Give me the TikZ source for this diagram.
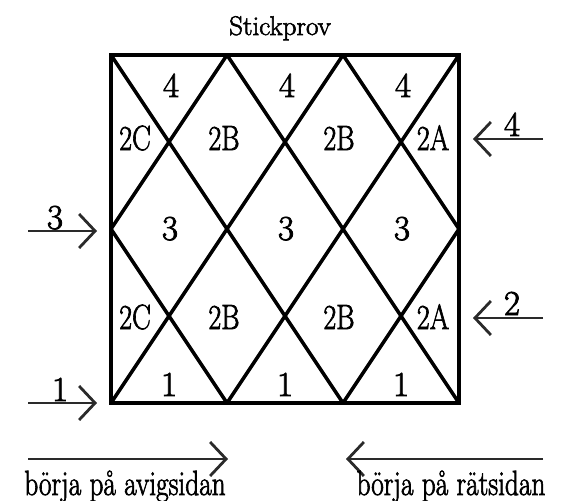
\documentclass[tikz,border=0pt]{standalone}
\usepackage{fontspec}
\setmainfont{Latin Modern Roman}
\newfontface\lmheavy{Latin Modern Roman}[FakeBold=2.2]
\usetikzlibrary{arrows.meta}
\definecolor{arrcol}{HTML}{2A2A2A}
\newcommand\narrowtxt[2]{\scalebox{#1}[1]{#2}}
\begin{document}
\begin{tikzpicture}[x=1pt,y=-1pt,
  frame/.style={line width=4.2pt,line join=miter},
  diag/.style={line width=3.5pt,line cap=round},
  arr/.style={arrcol,line width=2.8pt,-{Straight Barb[length=16pt,width=34pt]}},
  lbl/.style={font=\fontsize{35}{35}\lmheavy,inner sep=0pt,anchor=base},
  big/.style={font=\fontsize{35}{35}\lmheavy,inner sep=0pt,anchor=base},
  ttl/.style={font=\fontsize{27}{27}\lmheavy,inner sep=0pt,anchor=base}]
\useasboundingbox (0,0) rectangle (563,501);
% vertices
\coordinate (T0) at (111,55); \coordinate (T1) at (227,55);
\coordinate (T2) at (343,55); \coordinate (T3) at (459,55);
\coordinate (B0) at (111,403); \coordinate (B1) at (227,403);
\coordinate (B2) at (343,403); \coordinate (B3) at (459,403);
\coordinate (ML) at (111,229); \coordinate (MR) at (459,229);
% diagonals
\draw[diag] (T0) -- (B2);
\draw[diag] (T1) -- (B3);
\draw[diag] (T2) -- (MR);
\draw[diag] (ML) -- (B1);
\draw[diag] (T3) -- (B1);
\draw[diag] (T2) -- (B0);
\draw[diag] (T1) -- (ML);
\draw[diag] (MR) -- (B2);
% frame
\draw[frame] (T0) -- (T3) -- (B3) -- (B0) -- cycle;
% title
\node[ttl] (title) at (280,35) {\narrowtxt{1.0}{Stickprov}};
% cell labels
\node[lbl] (f1) at (171,97) {4};
\node[lbl] (f2) at (287,97) {4};
\node[lbl] (f3) at (403,97) {4};
\node[lbl] (c1) at (135,150) {\narrowtxt{0.8}{2C}};
\node[lbl] (b1) at (224,150) {\narrowtxt{0.8}{2B}};
\node[lbl] (b2) at (339,150) {\narrowtxt{0.8}{2B}};
\node[lbl] (a1) at (433,150) {\narrowtxt{0.8}{2A}};
\node[lbl] (h1) at (170,240) {3};
\node[lbl] (h2) at (286,240) {3};
\node[lbl] (h3) at (402,240) {3};
\node[lbl] (c2) at (135,329) {\narrowtxt{0.8}{2C}};
\node[lbl] (b3) at (224,329) {\narrowtxt{0.8}{2B}};
\node[lbl] (b4) at (339,329) {\narrowtxt{0.8}{2B}};
\node[lbl] (a2) at (433,329) {\narrowtxt{0.8}{2A}};
\node[lbl] (o1) at (169,396) {1};
\node[lbl] (o2) at (285,396) {1};
\node[lbl] (o3) at (401,396) {1};
% side arrows
\coordinate (s3) at (28,231); \coordinate (e3) at (97,231);
\coordinate (s1) at (28,403); \coordinate (e1) at (97,403);
\coordinate (s4) at (543,139); \coordinate (e4) at (473,139);
\coordinate (s2) at (543,318); \coordinate (e2) at (473,318);
\draw[arr] (s3) -- (e3);
\draw[arr] (s1) -- (e1);
\draw[arr] (s4) -- (e4);
\draw[arr] (s2) -- (e2);
\node[lbl] (n3) at (55,229) {3};
\node[lbl] (n1) at (60,401) {1};
\node[lbl] (n4) at (512,136) {4};
\node[lbl] (n2) at (512,315) {2};
% bottom arrows
\coordinate (sl) at (28,459); \coordinate (el) at (228,459);
\coordinate (sr) at (543,459); \coordinate (er) at (346,459);
\draw[arr] (sl) -- (el);
\draw[arr] (sr) -- (er);
\node[big] (avig) at (125,495) {\narrowtxt{0.78}{börja på avigsidan}};
\node[big] (rat) at (451,495) {\narrowtxt{0.78}{börja på rätsidan}};
\end{tikzpicture}
\end{document}
